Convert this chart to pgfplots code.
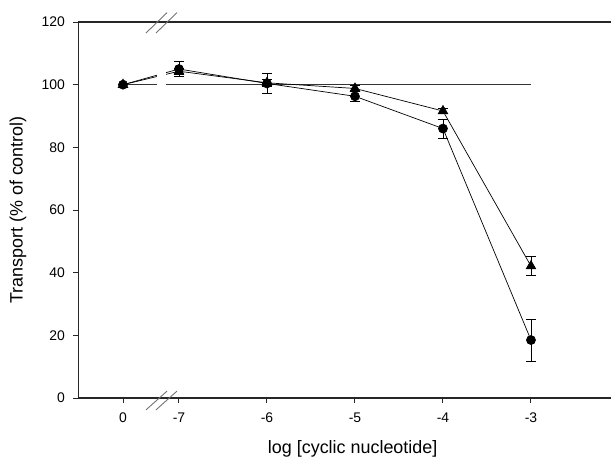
\documentclass[border=0pt]{standalone}
\usepackage{fontspec}
\setmainfont{Liberation Sans}
\usepackage{pgfplots}
\pgfplotsset{compat=1.18}

\begin{document}
\begin{tikzpicture}
\begin{axis}[
    x=88bp, y=3.133bp,
    xmin=-0.144, xmax=5.91,
    ymin=0, ymax=120,
    axis x line=box, axis y line=left,
    axis line style={-, line width=1.2bp, black!85},
    xtick pos=bottom,
    tick align=outside,
    major tick length=5bp,
    tick style={line width=1bp, black!85},
    xtick={0.364,1,2,3,4,5},
    xticklabels={0,-7,-6,-5,-4,-3},
    ytick={0,20,...,120},
    minor tick num=0,
    every tick label/.append style={font=\fontsize{14}{16}\selectfont},
    every x tick label/.append style={yshift=-6bp},
    every y tick label/.append style={xshift=-5bp},
    xlabel={log [cyclic nucleotide]},
    ylabel={Transport (\% of control)},
    label style={font=\fontsize{18}{21}\selectfont},
    xlabel style={at={(axis description cs:0.515,-0.135)}, anchor=center},
    ylabel style={at={(axis description cs:-0.113,0.5)}, anchor=center},
    clip=false,
    /pgf/number format/assume math mode=true,
]
% 100 % reference line
\addplot[black!80, line width=1bp] coordinates {(0.307,100) (5,100)};

% circles
\addplot[black, line width=0.7bp, mark=*, mark size=4.5bp,
    error bars/.cd, y dir=both, y explicit,
    error bar style={line width=0.8bp, black},
    error mark options={rotate=90, mark size=5bp, line width=0.8bp}]
  coordinates {
    (0.364,100) +- (0,0)
    (1,105) +- (0,2.5)
    (2,100.4) +- (0,3.3)
    (3,96.3) +- (0,1.5)
    (4,86) +- (0,3)
    (5,18.5) +- (0,6.7)
  };

% triangles
\addplot[black, line width=0.7bp, mark=triangle*, mark size=5.5bp,
    error bars/.cd, y dir=both, y explicit,
    error bar style={line width=0.8bp, black},
    error mark options={rotate=90, mark size=5bp, line width=0.8bp}]
  coordinates {
    (0.364,100) +- (0,0)
    (1,104.3) +- (0,1)
    (2,100.6) +- (0,1)
    (3,98.8) +- (0,1)
    (4,91.6) +- (0,0.8)
    (5,42.1) +- (0,3)
  };

% axis break gap and marks
\fill[white] (axis cs:0.75,97) rectangle (axis cs:0.852,107);
\draw[black!55, line width=0.9bp] (axis cs:0.625,116.5) -- (axis cs:0.864,123);
\draw[black!55, line width=0.9bp] (axis cs:0.739,116.5) -- (axis cs:0.977,123);
\draw[black!55, line width=0.9bp] (axis cs:0.625,-3.8) -- (axis cs:0.864,2.2);
\draw[black!55, line width=0.9bp] (axis cs:0.739,-3.8) -- (axis cs:0.977,2.2);
\end{axis}
\pgfresetboundingbox
\useasboundingbox (-78.3bp,-60bp) rectangle (532.7bp,398bp);
\end{tikzpicture}
\end{document}
